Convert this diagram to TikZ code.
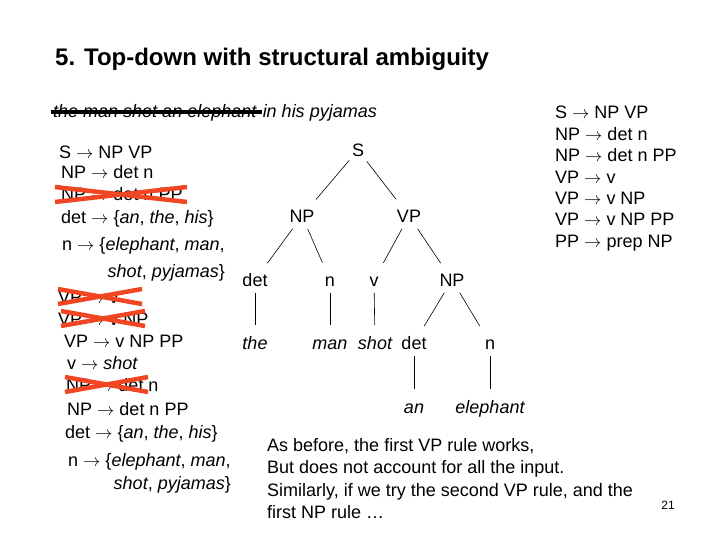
\documentclass[tikz,border=0pt]{standalone}
\usepackage{fontspec}
\setmainfont{Liberation Sans}
\usetikzlibrary{calc,positioning}
\definecolor{crosscol}{RGB}{240,70,35}
\newcommand{\bodyfont}{\fontsize{18}{21.4}\selectfont}
\newcommand{\titlefont}{\fontsize{24}{28}\selectfont\bfseries}
\newcommand{\rarr}{$\rightarrow$}
% red X laid over a rule that has been tried and dropped
\newcommand{\crossout}[3]{%
  \draw[crossline] ($(#1.base west)+(#2,-14)$) -- ($(#1.base west)+(#2+#3,1)$);
  \draw[crossline] ($(#1.base west)+(#2,1)$) -- ($(#1.base west)+(#2+#3,-14)$);}

\begin{document}
\begin{tikzpicture}[x=1pt,y=-1pt,
  rule/.style={anchor=base west,inner sep=0,font=\bodyfont},
  tnode/.style={inner xsep=2pt,inner ysep=5pt,text height=13pt,text depth=0.4pt,font=\bodyfont},
  edge/.style={line width=0.6pt,shorten <=1pt,shorten >=6pt},
  crossline/.style={crosscol,line width=4.5pt},
  strike/.style={black,line width=4.6pt}]
\useasboundingbox (0,0) rectangle (720,540);
% title and input sentence
\node[anchor=base west,inner sep=0,font=\titlefont] (title) at (55,66) {5. Top-down with structural ambiguity};
\node[rule,font=\bodyfont\itshape] (done) at (53,118) {the man shot an elephant};
\node[rule,font=\bodyfont\itshape] (rest) at ($(done.base east)+(6,0)$) {in his pyjamas};
\draw[strike] ($(done.base west)+(-2,-6)$) -- ($(done.base east)+(5,-6)$);
% grammar still to try, left
\node[rule] (l1) at (59,159) {S \rarr{} NP VP};
\node[rule] (l2) at (61,179) {NP \rarr{} det n};
\node[rule] (l3) at (61,201) {NP \rarr{} det n PP};
\node[rule] (l4) at (61,224) {det \rarr{} \{\textit{an}, \textit{the}, \textit{his}\}};
\node[rule] (l5) at (62,251) {n \rarr{} \{\textit{elephant}, \textit{man},};
\node[rule,anchor=base east] (l6) at (225,277) {\textit{shot}, \textit{pyjamas}\}};
\node[rule] (l7) at (58,303) {VP \rarr{} v};
\node[rule] (l8) at (58,325) {VP \rarr{} v NP};
\node[rule] (l9) at (64,347) {VP \rarr{} v NP PP};
\node[rule] (l10) at (67,369) {v \rarr{} \textit{shot}};
\node[rule] (l11) at (66,391) {NP \rarr{} det n};
\node[rule] (l12) at (67,415) {NP \rarr{} det n PP};
\node[rule] (l13) at (65,438) {det \rarr{} \{\textit{an}, \textit{the}, \textit{his}\}};
\node[rule] (l14) at (68,466) {n \rarr{} \{\textit{elephant}, \textit{man},};
\node[rule,anchor=base east] (l15) at (231,489) {\textit{shot}, \textit{pyjamas}\}};
\crossout{l3}{-6}{132}
\crossout{l7}{0}{84}
\crossout{l8}{3}{84}
\crossout{l11}{-1}{83}
% full grammar, right
\node[anchor=north west,inner sep=0,align=left,font=\bodyfont] (gram) at (555,106.2)
  {S \rarr{} NP VP\\ NP \rarr{} det n\\ NP \rarr{} det n PP\\ VP \rarr{} v\\
   VP \rarr{} v NP\\ VP \rarr{} v NP PP\\ PP \rarr{} prep NP};
% parse tree
\node[tnode] (s) at (358,150) {S};
\node[tnode] (np) at (302,216) {NP};
\node[tnode] (vp) at (409,216) {VP};
\node[tnode] (det) at (255,280) {det};
\node[tnode] (n) at (330,280) {n};
\node[tnode] (v) at (374,280) {v};
\node[tnode] (npo) at (452,280) {NP};
\node[tnode] (the) at (255,343) {\itshape the};
\node[tnode] (man) at (330,343) {\itshape man};
\node[tnode] (shot) at (375,343) {\itshape shot};
\node[tnode] (deto) at (414,343) {det};
\node[tnode] (no) at (490,343) {n};
\node[tnode] (an) at (414,407) {\itshape an};
\node[tnode] (eleph) at (490,407) {\itshape elephant};
\draw[edge] (s) -- (np);
\draw[edge] (s) -- (vp);
\draw[edge] (np) -- (det);
\draw[edge] (np) -- (n);
\draw[edge] (vp) -- (v);
\draw[edge] (vp) -- (npo);
\draw[edge] (npo) -- (deto);
\draw[edge] (npo) -- (no);
\draw[edge] (det) -- (the);
\draw[edge] (n) -- (man);
\draw[edge] (v) -- (shot);
\draw[edge] (deto) -- (an);
\draw[edge] (no) -- (eleph);
% comment below the tree
\node[anchor=north west,inner sep=0,align=left,font=\fontsize{18}{22.4}\selectfont] (note) at (267,438)
  {As before, the first VP rule works,\\ But does not account for all the input.\\
   Similarly, if we try the second VP rule, and the\\ first NP rule \dots};
\node[inner sep=0,font=\fontsize{12}{14}\selectfont] (page) at (668,505) {21};
\end{tikzpicture}
\end{document}
